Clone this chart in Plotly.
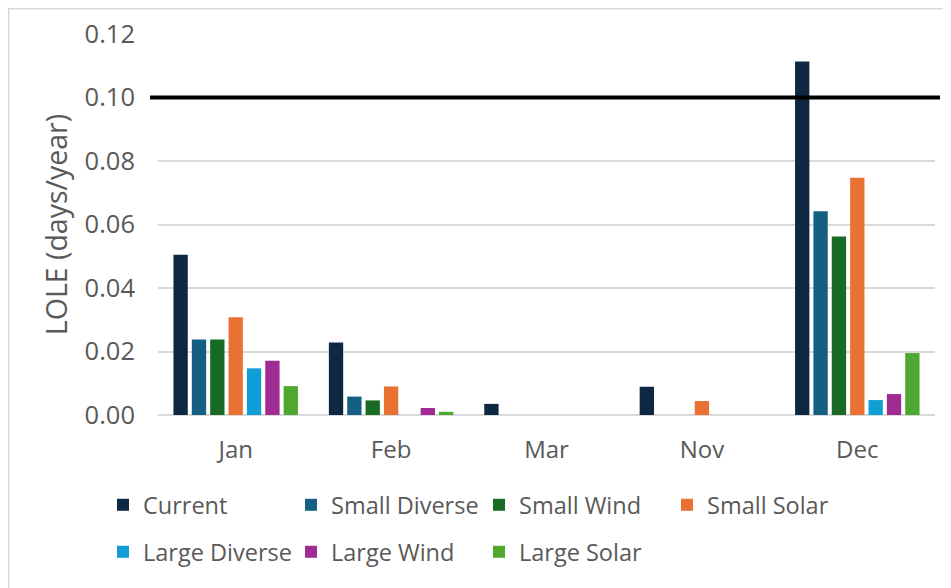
import plotly.graph_objects as go

months = ["Jan", "Feb", "Mar", "Nov", "Dec"]
series_names = ["Current", "Small Diverse", "Small Wind", "Small Solar",
                "Large Diverse", "Large Wind", "Large Solar"]
current = [0.0505, 0.0228, 0.0035, 0.0089, 0.1113]
small_diverse = [0.0238, 0.0058, 0.0, 0.0, 0.0642]
small_wind = [0.0238, 0.0046, 0.0, 0.0, 0.0562]
small_solar = [0.0308, 0.0090, 0.0, 0.0044, 0.0747]
large_diverse = [0.0147, 0.0, 0.0, 0.0, 0.0047]
large_wind = [0.0171, 0.0022, 0.0, 0.0, 0.0066]
large_solar = [0.0091, 0.0010, 0.0, 0.0, 0.0195]
threshold = 0.10
y_ticks = [0.00, 0.02, 0.04, 0.06, 0.08, 0.10, 0.12]

values = [current, small_diverse, small_wind, small_solar,
          large_diverse, large_wind, large_solar]
colors = ["#0E2841", "#156082", "#196B24", "#E97132",
          "#0F9ED5", "#A02B93", "#4EA72E"]

FONT = "Open Sans"
TXT = "#595959"

fig = go.Figure()
for i, (name, vals, col) in enumerate(zip(series_names, values, colors)):
    fig.add_trace(go.Bar(
        x=months, y=vals, name=name,
        marker=dict(color=col, line=dict(width=0)),
        legend="legend" if i < 4 else "legend2",
    ))

# page body has an 8px margin: work in screen pixels and shift
OFF = 8
W, H = 951 - OFF, 588 - OFF
L, T = 158 - OFF, 34 - OFF
R = W - (935 - OFF)
B = H - (415 - OFF)
pw = W - L - R
ph = H - T - B


def px_x(x):
    return (x - OFF - L) / pw


def px_y(y):
    return (H - B - (y - OFF)) / ph


leg_common = dict(
    orientation="h", xanchor="left", yanchor="middle",
    font=dict(family=FONT, size=23.5, color=TXT),
    entrywidth=143, entrywidthmode="pixels",
    bgcolor="rgba(0,0,0,0)", borderwidth=0,
    traceorder="normal",
)

fig.update_layout(
    width=W, height=H,
    margin=dict(l=L, r=R, t=T, b=B, autoexpand=False),
    paper_bgcolor="white", plot_bgcolor="white",
    barmode="group", bargap=0.173, bargroupgap=0.22,
    font=dict(family=FONT, color=TXT),
    showlegend=True,
    legend=dict(x=px_x(103), y=px_y(505), **leg_common),
    legend2=dict(x=px_x(103), y=px_y(552), **leg_common),
    xaxis=dict(
        showgrid=False, showline=False, ticks="",
        tickfont=dict(family=FONT, size=24, color=TXT),
        ticklabelstandoff=18,
    ),
    yaxis=dict(
        range=[0, 0.12], tickvals=y_ticks, tickformat=".2f",
        showgrid=True, gridcolor="#d9d9d9", gridwidth=1.5,
        zeroline=True, zerolinecolor="#d9d9d9", zerolinewidth=1.5,
        showline=False, ticks="",
        tickfont=dict(family=FONT, size=25.5, color=TXT),
        ticklabelstandoff=22,
        title=dict(text="LOLE (days/year)", standoff=8,
                   font=dict(family=FONT, size=28.5, color=TXT)),
    ),
    shapes=[
        dict(type="line", xref="paper", yref="y",
             x0=px_x(150), x1=px_x(940), y0=threshold, y1=threshold,
             line=dict(color="black", width=4)),
        dict(type="rect", xref="paper", yref="paper",
             x0=px_x(OFF + 0.75), x1=px_x(951 + 20),
             y0=px_y(588 + 20), y1=px_y(OFF + 0.75),
             line=dict(color="#d9d9d9", width=1.5), layer="above"),
    ],
)

fig.write_html("out.html")
